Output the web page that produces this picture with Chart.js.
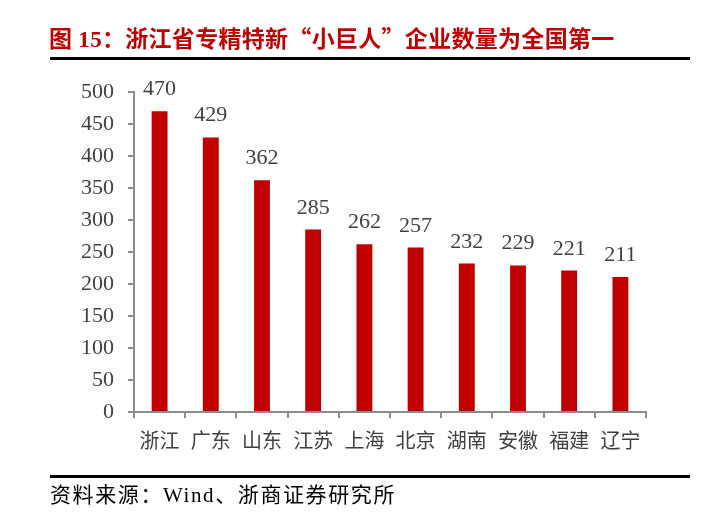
<!DOCTYPE html>
<html>
<head>
<meta charset="utf-8">
<script src="https://cdn.jsdelivr.net/npm/chart.js@4.4.0/dist/chart.umd.min.js"></script>
<style>
  body { margin: 0; background: #fff; }
  #wrap { position: relative; width: 706px; height: 525px; }
  #chartBox { position: absolute; left: 0; top: 0; width: 706px; height: 525px; }
  .title {
    position: absolute; left: 49px; top: 20px;
    font-family: "Liberation Serif", "Noto Sans CJK SC", serif;
    font-weight: bold; font-size: 23px; color: #c00000; white-space: nowrap;
    letter-spacing: 0.3px;
  }
  .title .cn { font-family: "Noto Sans CJK SC", sans-serif; }
  .rule { position: absolute; left: 50px; width: 640px; height: 3px; background: #000; }
  .source {
    position: absolute; left: 50px; top: 478px;
    font-family: "Liberation Serif", "Noto Sans CJK SC", serif;
    font-size: 21px; color: #000; white-space: nowrap;
    letter-spacing: 1.6px;
  }
  .source .cn { font-family: "Noto Sans CJK SC", sans-serif; }
</style>
</head>
<body>
<div id="wrap">
  <div id="chartBox"><canvas id="c"></canvas></div>
  <div class="title">图 15<span class="cn">：浙江省专精特新“小巨人”企业数量为全国第一</span></div>
  <div class="rule" style="top:57px"></div>
  <div class="rule" style="top:475px"></div>
  <div class="source"><span class="cn">资料来源：</span>Wind<span class="cn">、浙商证券研究所</span></div>
</div>
<script>
const provinces = ["浙江", "广东", "山东", "江苏", "上海", "北京", "湖南", "安徽", "福建", "辽宁"];
const companyCounts = [470, 429, 362, 285, 262, 257, 232, 229, 221, 211];

const textColor = "#404040";
const axisColor = "#8c8c8c";

// numbers above the bars
const barLabels = {
  id: "barLabels",
  afterDatasetsDraw(chart) {
    const c = chart.ctx;
    const meta = chart.getDatasetMeta(0);
    c.save();
    c.font = "22px 'Liberation Serif'";
    c.fillStyle = textColor;
    c.textAlign = "center";
    c.textBaseline = "alphabetic";
    meta.data.forEach((bar, i) => {
      c.fillText(companyCounts[i], bar.x, bar.y - 16);
    });
    c.restore();
  }
};

new Chart(document.getElementById("c").getContext("2d"), {
  type: "bar",
  data: {
    labels: provinces,
    datasets: [{
      data: companyCounts,
      backgroundColor: "#c00000",
      barPercentage: 0.31,
      categoryPercentage: 1
    }]
  },
  options: {
    responsive: true,
    maintainAspectRatio: false,
    animation: false,
    layout: { padding: { left: 64, right: 60, top: 92, bottom: 63 } },
    plugins: { legend: { display: false }, tooltip: { enabled: false } },
    scales: {
      x: {
        afterFit(scale) { scale.height = 50; },
        grid: { drawOnChartArea: false, drawTicks: true, tickLength: 6, color: axisColor, lineWidth: 2, offset: true },
        border: { display: true, color: axisColor, width: 2 },
        ticks: {
          padding: 10,
          color: textColor,
          font: { family: "'Noto Sans CJK SC'", size: 20 }
        }
      },
      y: {
        min: 0,
        max: 500,
        afterFit(scale) { scale.width = 70; },
        grid: { drawOnChartArea: false, drawTicks: true, tickLength: 6, color: axisColor, lineWidth: 2 },
        border: { display: true, color: axisColor, width: 2 },
        ticks: {
          stepSize: 50,
          padding: 14,
          color: textColor,
          font: { family: "'Liberation Serif'", size: 22 }
        }
      }
    }
  },
  plugins: [barLabels]
});
</script>
</body>
</html>
